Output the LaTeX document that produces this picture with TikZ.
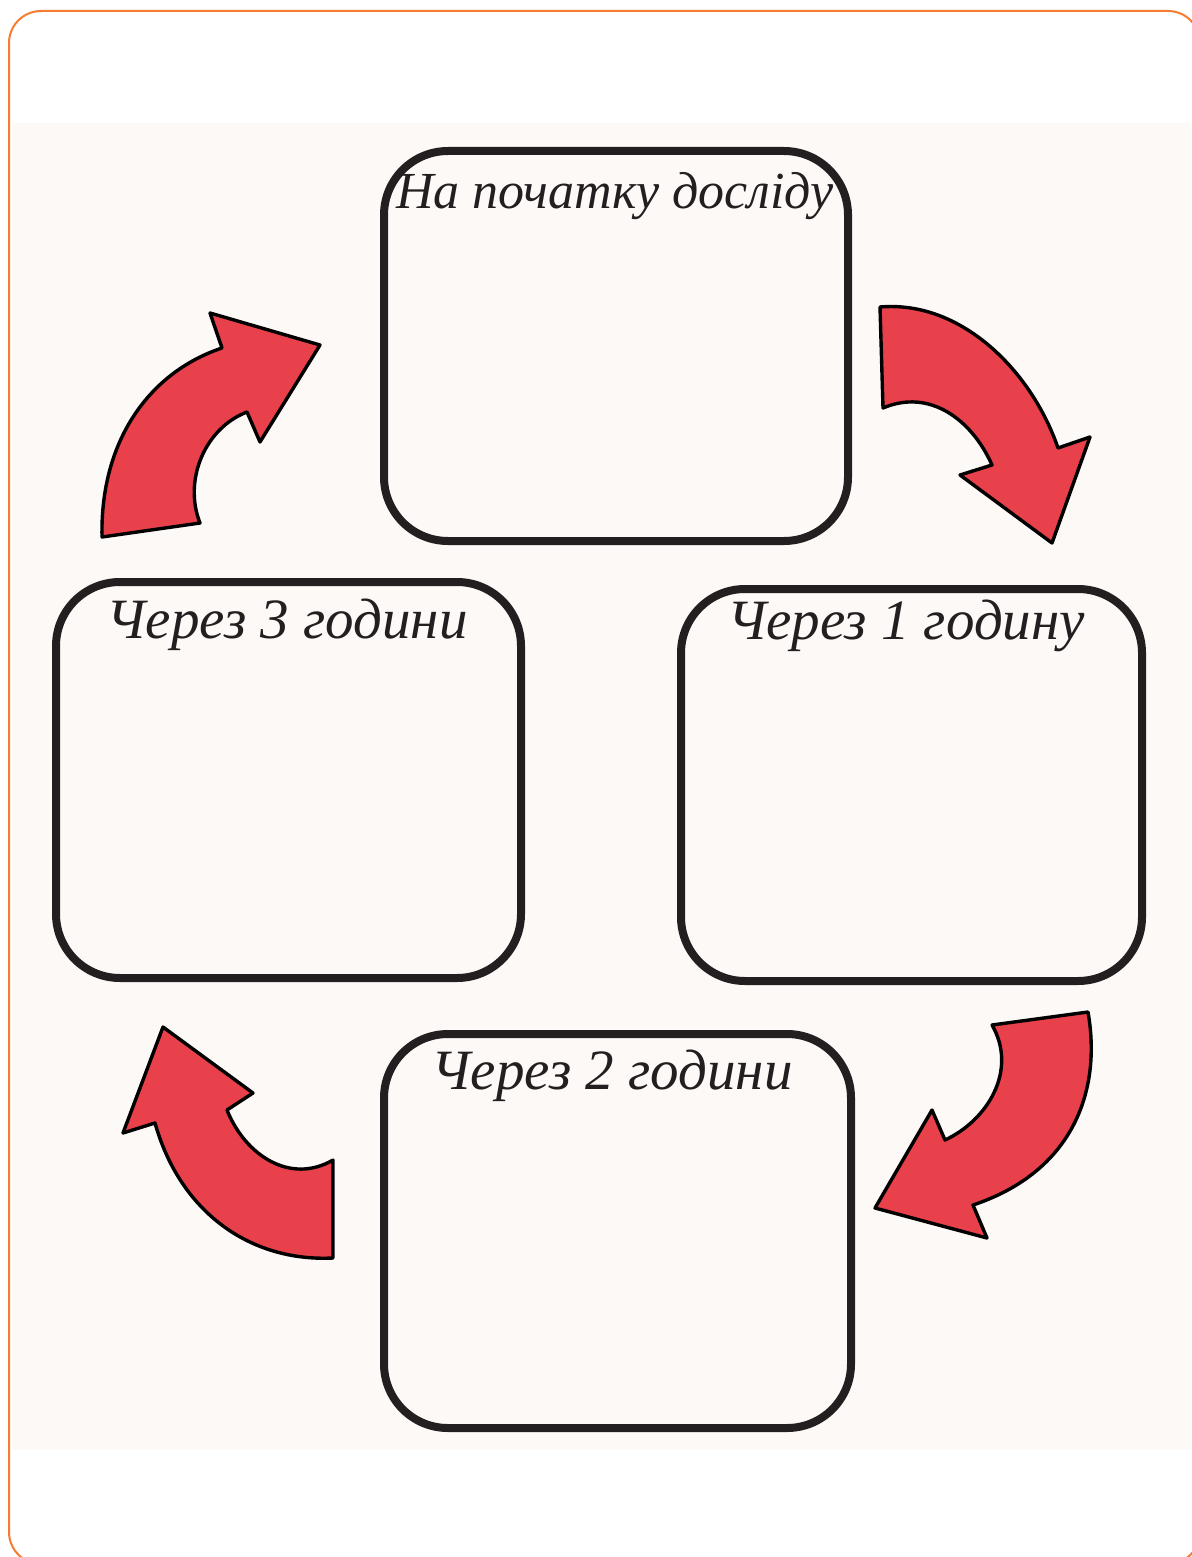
\documentclass[tikz,border=0pt]{standalone}
\usepackage{fontspec}
\setmainfont{Liberation Serif}
\definecolor{bgpink}{RGB}{252,249,247}
\definecolor{frameorange}{RGB}{245,125,50}
\definecolor{arrowred}{RGB}{232,65,75}
\definecolor{boxblack}{RGB}{35,31,32}
\begin{document}
\begin{tikzpicture}[x=0.5pt,y=-0.5pt,
  stagebox/.style={draw=boxblack,line width=4pt,rounded corners=32pt,fill=bgpink,inner sep=0pt},
  stagelabel/.style={font=\itshape\fontsize{28.5}{32}\selectfont,text=boxblack,anchor=base,inner sep=0pt},
  redbend/.style={fill=arrowred,draw=black,line width=1.7pt,line join=round}]
\useasboundingbox (0,0) rectangle (1191,1557);
\fill[white] (0,0) rectangle (1191,1557);
\fill[bgpink] (12,123) rectangle (1191,1450);
\draw[frameorange,line width=1pt,rounded corners=16pt] (9,11) rectangle (1200,1564);

\node[stagebox,minimum width=232pt,minimum height=195pt] (start) at (616,346) {};
\node[stagebox,minimum width=230.5pt,minimum height=196pt] (h1) at (911.5,785) {};
\node[stagebox,minimum width=232.5pt,minimum height=198pt] (h3) at (288.5,780) {};
\node[stagebox,minimum width=233.5pt,minimum height=197pt] (h2) at (617.5,1231) {};

\node[stagelabel,font=\itshape\fontsize{26}{30}\selectfont] (lstart) at (615,209) {На початку досліду};
\node[stagelabel] (lh1) at (906,639) {Через 1 годину};
\node[stagelabel] (lh3) at (287,638) {Через 3 години};
\node[stagelabel] (lh2) at (612,1089) {Через 2 години};

% arrow: h3 -> start
\draw[redbend] (102,537) -- (200,523) .. controls (183,480) and (205,428) .. (247,412)
  -- (260,442) -- (320,345) -- (210,313) -- (222,348)
  .. controls (150,372) and (100,440) .. (102,537) -- cycle;
% arrow: start -> h1
\draw[redbend] (880,307) -- (883,408) .. controls (930,388) and (972,420) .. (992,465)
  -- (960,475) -- (1052,543) -- (1090,437) -- (1058,448)
  .. controls (1032,372) and (962,300) .. (880,307) -- cycle;
% arrow: h1 -> h2
\draw[redbend] (992,1025) -- (1088,1012) .. controls (1102,1092) and (1072,1172) .. (973,1205)
  -- (987,1238) -- (875,1208) -- (932,1110) -- (945,1140)
  .. controls (988,1120) and (1018,1070) .. (992,1025) -- cycle;
% arrow: h2 -> h3
\draw[redbend] (333,1258) -- (333,1160) .. controls (290,1185) and (245,1155) .. (227,1110)
  -- (253,1093) -- (163,1027) -- (123,1133) -- (155,1123)
  .. controls (180,1212) and (250,1262) .. (333,1258) -- cycle;
\end{tikzpicture}
\end{document}
